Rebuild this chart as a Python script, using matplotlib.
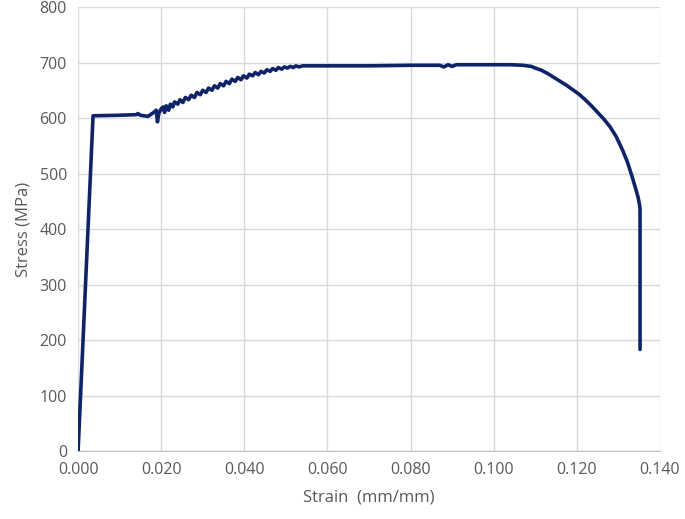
import matplotlib
matplotlib.use('Agg')
import matplotlib.pyplot as plt

# stress-strain curve
strain = [0.0, 0.0036, 0.0100, 0.0140, 0.0144, 0.0150, 0.0168, 0.0182, 0.0188, 0.0191, 0.0194,
          0.0200, 0.0205, 0.0208, 0.0212, 0.0218, 0.0222, 0.0228, 0.0232, 0.0240, 0.0245,
          0.0252, 0.0258, 0.0266, 0.0272, 0.0280, 0.0286, 0.0294, 0.0300, 0.0308, 0.0314,
          0.0322, 0.0328, 0.0336, 0.0342, 0.0350, 0.0356, 0.0364, 0.0370, 0.0378, 0.0384,
          0.0392, 0.0398, 0.0406, 0.0412, 0.0420, 0.0426, 0.0434, 0.0440, 0.0448, 0.0454,
          0.0462, 0.0468, 0.0476, 0.0482, 0.0490, 0.0496, 0.0504, 0.0510, 0.0518, 0.0524,
          0.0532, 0.0540, 0.0600, 0.0700, 0.0800, 0.0870, 0.0880, 0.0890, 0.0900, 0.0910,
          0.0920, 0.1000, 0.1040, 0.1070, 0.1090, 0.1100, 0.1115, 0.1130, 0.1145, 0.1160,
          0.1175, 0.1190, 0.1205, 0.1220, 0.1235, 0.1250, 0.1265, 0.1280, 0.1295, 0.1310,
          0.1322, 0.1333, 0.1341, 0.1347, 0.1351, 0.1352, 0.1352]
stress = [0, 604, 605, 606, 608, 605, 603, 610, 614, 593, 608,
          617, 620, 610, 622, 614, 625, 620, 629, 625, 633,
          628, 637, 633, 641, 637, 646, 642, 650, 646, 654,
          650, 658, 654, 662, 658, 666, 662, 670, 666, 673,
          669, 676, 672, 679, 676, 682, 678, 684, 681, 687,
          684, 689, 686, 691, 688, 692, 690, 693, 691, 694,
          692, 694, 694, 694, 695, 695, 692, 696, 693, 696,
          696, 696, 696, 695, 693, 690, 686, 680, 673, 666,
          659, 651, 643, 633, 622, 610, 598, 584, 566, 542,
          520, 494, 474, 458, 443, 436, 183]

xticks = [0.0, 0.02, 0.04, 0.06, 0.08, 0.10, 0.12, 0.14]
yticks = [0, 100, 200, 300, 400, 500, 600, 700, 800]

plt.rcParams['font.family'] = ['Open Sans', 'DejaVu Sans']
txt = '#595959'
grid = '#D9D9D9'

fig = plt.figure(figsize=(6.85, 5.19), dpi=100)
ax = fig.add_axes([0.114, 0.131, 0.8495, 0.8555])

ax.plot(strain, stress, color='#0F2468', lw=2.6, solid_joinstyle='round',
        solid_capstyle='round', zorder=3)

ax.set_xlim(0, 0.14)
ax.set_ylim(0, 800)
ax.set_xticks(xticks)
ax.set_yticks(yticks)
ax.set_xticklabels(['%.3f' % v for v in xticks])
ax.set_yticklabels([str(v) for v in yticks])
ax.grid(True, color=grid, lw=1.0)
ax.set_axisbelow(True)
for s in ['top', 'right', 'left']:
    ax.spines[s].set_visible(False)
ax.spines['bottom'].set_color('#BFBFBF')
ax.tick_params(length=0, labelsize=11.5, colors=txt, pad=8)
ax.set_xlabel('Strain  (mm/mm)', fontsize=12, color=txt, labelpad=8)
ax.set_ylabel('Stress (MPa)', fontsize=12, color=txt, labelpad=6)

fig.savefig('out.png', dpi=100)
